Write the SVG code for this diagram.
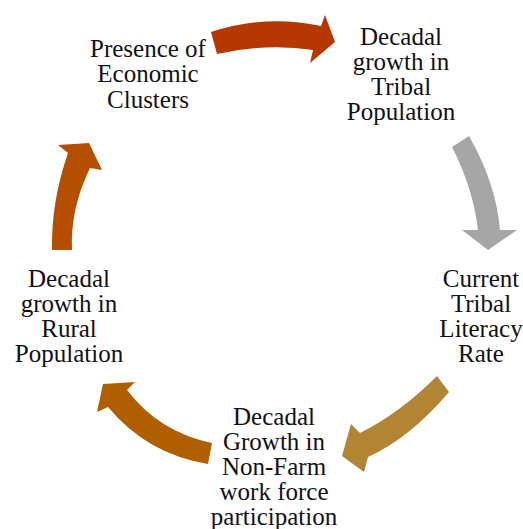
<svg xmlns="http://www.w3.org/2000/svg" width="523" height="529" viewBox="0 0 523 529">
<style>
.t{font-family:"Liberation Serif","Times New Roman",serif;font-size:25px;fill:#111;text-anchor:middle}
</style>
<rect width="523" height="529" fill="#fff"/>
<g id="connectors">
<path id="a1" fill="#B53800" d="M211,32 Q266,14 321,26 L325,15 L335,42 L310,63 L313,50 Q266,43 217,54 Z"/>
<path id="a2" fill="#A6A6A6" d="M452,147 Q473,188 478,230 L462,230 L488,250 L517,230 L500,230 Q496,183 469,136 Z"/>
<path id="a3" fill="#B28534" d="M437,376 Q400,413 360,433 L351,424 L342,456 L364,472 L368,457 Q410,438 449,392 Z"/>
<path id="a4" fill="#AF5F00" d="M212,443 Q159,432 127,390 L135,382 L103,384 L97,412 L108,407 Q147,454 208,464 Z"/>
<path id="a5" fill="#B64E00" d="M52,250 Q51,202 68,153 L58,145 L89,143 L102,170 L90,168 Q70,209 72,250 Z"/>
</g>
<g id="node-clusters">
<text class="t" x="148" y="56.5">Presence of</text>
<text class="t" x="148" y="82">Economic</text>
<text class="t" x="148" y="107.5">Clusters</text>
</g>
<g id="node-tribal-pop">
<text class="t" x="401" y="45">Decadal</text>
<text class="t" x="401" y="70">growth in</text>
<text class="t" x="401" y="95">Tribal</text>
<text class="t" x="401" y="120">Population</text>
</g>
<g id="node-literacy">
<text class="t" x="481" y="287">Current</text>
<text class="t" x="481" y="312">Tribal</text>
<text class="t" x="481" y="337">Literacy</text>
<text class="t" x="481" y="362">Rate</text>
</g>
<g id="node-nonfarm">
<text class="t" x="274" y="425">Decadal</text>
<text class="t" x="274" y="450">Growth in</text>
<text class="t" x="274" y="475">Non-Farm</text>
<text class="t" x="274" y="500">work force</text>
<text class="t" x="274" y="525">participation</text>
</g>
<g id="node-rural">
<text class="t" x="69" y="287">Decadal</text>
<text class="t" x="69" y="312">growth in</text>
<text class="t" x="69" y="337">Rural</text>
<text class="t" x="69" y="362">Population</text>
</g>
</svg>
